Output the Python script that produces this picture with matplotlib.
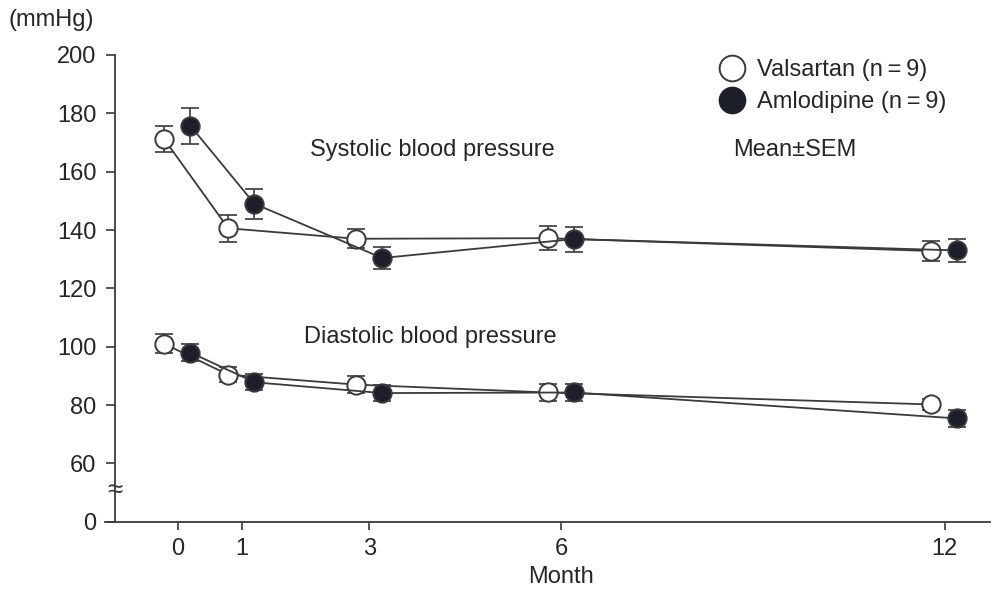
import matplotlib
matplotlib.use("Agg")
import matplotlib.pyplot as plt
from matplotlib.lines import Line2D

plt.rcParams['font.family'] = ['Liberation Sans', 'DejaVu Sans']

# Dados
months = [0, 1, 3, 6, 12]
off_val = -0.21
off_aml = 0.20

sys_val = [171.1, 140.6, 137.0, 137.2, 132.8]
sys_val_sem = [4.5, 4.6, 3.2, 4.1, 3.4]
sys_aml = [175.7, 149.0, 130.4, 136.9, 133.0]
sys_aml_sem = [6.2, 5.2, 3.9, 4.3, 4.0]

dia_val = [101.0, 90.4, 87.0, 84.3, 80.2]
dia_val_sem = [3.2, 2.5, 2.8, 3.0, 2.0]
dia_aml = [98.0, 87.8, 84.1, 84.3, 75.4]
dia_aml_sem = [2.8, 2.7, 2.8, 3.0, 2.9]

yticks = [40, 60, 80, 100, 120, 140, 160, 180, 200]
ytick_labels = ["0", "60", "80", "100", "120", "140", "160", "180", "200"]

# Estilo
line_c = "#3a3a3a"
fill_c = "#1c1f2a"
text_c = "#262626"
fs = 17
ms = 13.2

fig = plt.figure(figsize=(9.96, 5.97), dpi=100)
ax = fig.add_axes([0.1054, 0.1261, 0.8886, 0.7818])

x_val = [m + off_val for m in months]
x_aml = [m + off_aml for m in months]

for xs, ys, err, face in [
    (x_val, sys_val, sys_val_sem, "white"),
    (x_aml, sys_aml, sys_aml_sem, fill_c),
    (x_val, dia_val, dia_val_sem, "white"),
    (x_aml, dia_aml, dia_aml_sem, fill_c),
]:
    ax.errorbar(xs, ys, yerr=err, fmt="none", ecolor=line_c, elinewidth=1.2,
                capsize=6.5, capthick=1.2, zorder=2)
    ax.plot(xs, ys, color=line_c, linewidth=1.3, marker="o", markersize=ms,
            markerfacecolor=face, markeredgecolor=line_c, markeredgewidth=1.4,
            zorder=3)

ax.set_xlim(-1.138, 12.71)
ax.set_ylim(40, 200)
ax.set_xticks(months)
ax.set_xticklabels([str(m) for m in months])
ax.set_yticks(yticks)
ax.set_yticklabels(ytick_labels)

for s in ["top", "right"]:
    ax.spines[s].set_visible(False)
ax.spines["left"].set_position(("data", -0.98))
for s in ["left", "bottom"]:
    ax.spines[s].set_color(line_c)
    ax.spines[s].set_linewidth(1.3)

ax.tick_params(axis="y", length=6.5, width=1.2, colors=line_c, labelcolor=text_c,
               labelsize=fs, pad=7)
ax.tick_params(axis="x", length=5.8, width=1.2, colors=line_c, labelcolor=text_c,
               labelsize=fs, pad=6)

ax.set_xlabel("Month", fontsize=fs, color=text_c)
ax.xaxis.set_label_coords(0.515, -0.095)

# quebra do eixo
ax.text(-0.98, 50.5, "\u2248", fontsize=20, color=line_c, ha="center", va="center",
        zorder=4)

ax.text(3.99, 167.4, "Systolic blood pressure", fontsize=fs, color=text_c,
        ha="center", va="center")
ax.text(3.96, 103.3, "Diastolic blood pressure", fontsize=fs, color=text_c,
        ha="center", va="center")
ax.text(9.66, 167.4, "Mean\u00b1SEM", fontsize=fs, color=text_c,
        ha="center", va="center")

fig.text(9 / 996, 1 - 20 / 597, "(mmHg)", fontsize=fs, color=text_c,
         ha="left", va="center")

handles = [
    Line2D([], [], linestyle="none", marker="o", markersize=18.5,
           markerfacecolor="white", markeredgecolor=line_c, markeredgewidth=1.4),
    Line2D([], [], linestyle="none", marker="o", markersize=18.5,
           markerfacecolor=fill_c, markeredgecolor=fill_c, markeredgewidth=1.4),
]
leg = ax.legend(handles, ["Valsartan (n\u2009=\u20099)", "Amlodipine (n\u2009=\u20099)"],
                loc="upper left", bbox_to_anchor=(0.7229, 1 - 59 / 597),
                bbox_transform=fig.transFigure, frameon=False, fontsize=fs,
                borderpad=0, handlelength=1.0, handletextpad=0.57,
                labelspacing=0.44, borderaxespad=0)
for t in leg.get_texts():
    t.set_color(text_c)

fig.savefig("out.png", dpi=100)
